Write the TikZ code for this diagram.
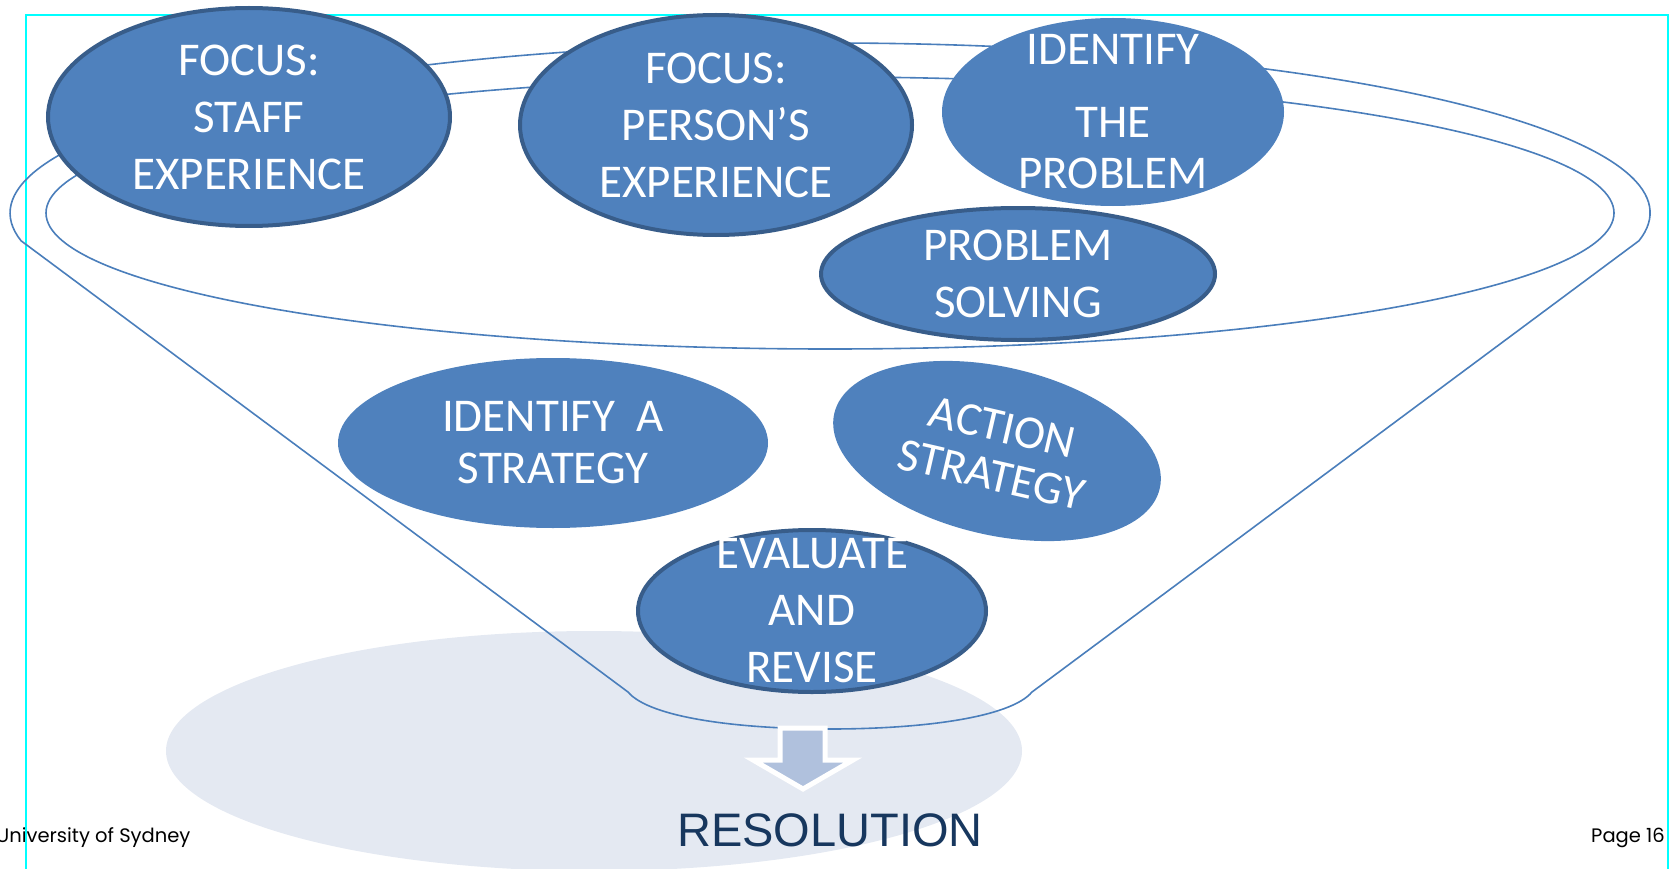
\documentclass[tikz,border=0pt]{standalone}
\usepackage{fontspec}
\setmainfont{Carlito}
\newfontfamily\footfont{Poppins}
\newfontfamily\resfont{Liberation Sans}
\usetikzlibrary{shapes.geometric}
\definecolor{blobfill}{HTML}{4F81BD}
\definecolor{blobrim}{HTML}{385D8A}
\definecolor{funnelline}{HTML}{4A7EBB}
\definecolor{poolfill}{HTML}{E4E9F2}
\definecolor{arrowfill}{HTML}{B0C1DD}
\definecolor{resblue}{HTML}{17375E}
\definecolor{framecyan}{HTML}{00FFFF}
\tikzset{
    %Define style for the step ellipses
    blob/.style={
           ellipse,
           fill=blobfill,
           inner sep=-30pt,
           text=white,
           align=center,
           font=\fontsize{47}{57}\selectfont},
    blobrim/.style={
           blob,
           draw=blobrim,
           line width=4pt},
    % Define style for the funnel outline
    funnel/.style={
           draw=funnelline,
           line width=1.6pt},
    % footer text
    foot/.style={
           anchor=base west,
           inner sep=0pt,
           font=\footfont\fontsize{19.5}{19.5}\selectfont}
}

\begin{document}
\begin{tikzpicture}[x=1pt,y=1pt]
\useasboundingbox (0,0) rectangle (1669,-869);
\clip (0,0) rectangle (1669,-869);
 %background pool
\fill[poolfill] (594,-751) ellipse[x radius=428, y radius=120];
\node[foot] (uni) at (-4,-842) {University of Sydney};
\node[foot] (page) at (1591,-842) {Page 16};
\draw[framecyan, line width=2pt] (26,-869) -- (26,-15) -- (1668,-15) -- (1668,-869);
 %funnel
\draw[funnel] ([shift={(-9.4:820 and 170)}]830,-213)
    arc[start angle=-9.4, end angle=189.4, x radius=820, y radius=170]
    -- (628,-692) .. controls (650,-718) and (740,-729) .. (830,-729)
    .. controls (920,-729) and (1010,-718) .. (1032,-692) -- cycle;
\draw[funnel] (830,-213) ellipse[x radius=784, y radius=136];
 %nodes
\node[blobrim, minimum width=402, minimum height=218] (staff) at (249,-117) {FOCUS:\\STAFF\\EXPERIENCE};
\node[blobrim, minimum width=392, minimum height=220] (person) at (716,-125) {FOCUS:\\PERSON’S\\EXPERIENCE};
\node[blob, minimum width=342, minimum height=188] (identify) at (1113,-112) {IDENTIFY\\[16pt]THE\\[-6pt]PROBLEM};
\node[blobrim, minimum width=394, minimum height=132] (solving) at (1018,-274) {PROBLEM\\SOLVING};
\node[blob, minimum width=430, minimum height=170] (strategy) at (553,-443) {IDENTIFY~~A\\[-5pt]STRATEGY};
\node[blob, minimum width=334, minimum height=168, rotate=-13] (action) at (997,-451) {ACTION\\[-8pt]STRATEGY};
\node[blobrim, minimum width=348, minimum height=162] (evaluate) at (812,-611) {EVALUATE\\AND\\REVISE};
 %arrow to resolution
\draw[white, line width=5pt, fill=arrowfill] (780,-728) -- (825,-728) -- (825,-760) -- (853,-760)
    -- (803,-789) -- (753,-760) -- (780,-760) -- cycle;
\node[font=\resfont\fontsize{47}{47}\selectfont, text=resblue] (resolution) at (830,-830) {RESOLUTION};
\end{tikzpicture}
\end{document}
